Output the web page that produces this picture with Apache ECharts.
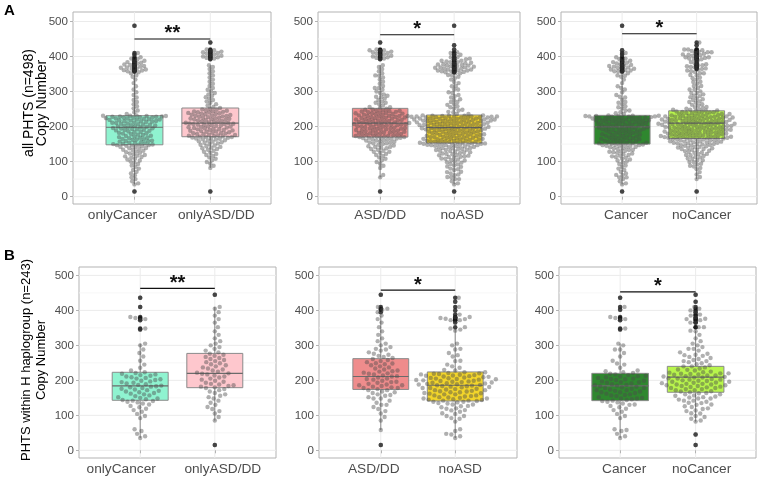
<!DOCTYPE html>
<html><head><meta charset="utf-8">
<script src="https://cdn.jsdelivr.net/npm/echarts@6/dist/echarts.min.js"></script>
<style>html,body{margin:0;padding:0;background:#fff}#c{width:758px;height:477px}</style>
</head><body><div id="c"></div>
<script>
// ---------- data: all PHTS (n=498) ----------
const A_onlyCancer = [15,35,38,44,50,55,61,66,71,76,80,85,89,93,97,100,103,106,108,111,113,115,117,119,121,123,125,127,129,131,133,134,136,138,139,141,142,144,145,146,147,147,148,149,150,151,152,153,154,156,157,158,159,160,162,163,164,165,167,168,169,170,172,173,174,176,177,178,180,181,182,184,185,186,188,189,190,191,192,193,194,195,196,197,198,199,200,201,202,203,204,205,206,207,208,209,210,211,212,213,214,215,215,216,217,218,219,220,220,221,222,223,223,224,225,226,226,227,228,228,229,229,230,230,231,231,232,236,241,246,252,258,264,270,276,283,290,298,306,315,324,334,342,346,352,355,357,358,360,361,363,365,366,368,369,371,373,374,376,377,380,382,384,386,388,392,394,398,405,410,488];
const A_onlyASD = [15,82,88,94,99,104,108,112,116,119,122,125,128,131,134,136,138,140,142,144,146,148,150,152,154,155,157,158,160,161,163,164,165,166,167,168,169,170,170,171,172,173,174,175,176,177,178,179,180,181,182,183,184,185,186,187,188,189,190,191,192,193,194,195,196,197,198,199,200,201,202,203,204,205,206,207,207,208,209,210,211,212,213,214,215,216,217,218,219,220,221,222,223,224,225,226,227,228,229,230,231,232,233,234,235,236,237,238,239,240,241,242,243,244,245,246,248,249,251,253,256,260,264,268,272,276,280,284,288,292,296,300,305,310,316,322,328,334,340,346,352,358,364,370,375,392,394,396,398,400,402,404,406,408,410,412,414,416,418,420,440];
const A_both = [55,62,128,142,152,160,168,175,182,188,194,200,206,212,218,224,230,238,246,255,268,285,310,345,418];
const A_neither = [50,56,63,70,78,86,92,98,104,109,114,118,122,126,130,133,136,139,142,145,147,149,151,152,154,155,157,158,160,161,163,165,166,168,170,171,173,175,176,178,180,181,183,185,186,188,190,191,193,195,196,198,199,201,202,204,205,207,208,210,211,213,214,216,217,219,220,222,223,225,226,228,229,231,232,236,242,248,255,262,270,278,287,296,306,316,327,338,347,352,356,360,363,366,369,372,375,378,381,384,388,392,398,405,412,420,432];
// ---------- data: PHTS within H haplogroup (n=243) ----------
const B_onlyCancer = [35,40,47,55,60,92,98,104,110,115,119,123,127,131,134,137,139,141,142,144,146,148,150,152,155,157,160,162,164,166,168,170,172,174,176,178,180,182,183,185,187,189,191,193,195,197,199,201,203,205,207,209,211,213,215,217,219,221,223,228,236,245,256,268,278,288,300,305,345,348,372,375,378,381,410,436];
const B_onlyASD = [15,85,95,105,112,118,124,130,136,142,148,152,156,160,164,168,172,175,178,180,182,184,186,188,190,193,196,199,202,205,208,211,214,217,219,220,222,225,228,231,234,237,240,243,246,249,252,255,258,261,264,267,270,273,276,280,285,290,295,300,305,312,320,330,340,352,365,375,385,395,405,410,445];
const B_both = [58,130,148,158,166,172,178,186,195,204,212,226,248,288,402];
const B_neither = [45,82,90,98,106,114,120,126,131,135,139,142,145,148,151,154,157,160,163,166,169,172,175,178,181,184,186,188,190,192,194,196,198,200,202,204,206,208,210,212,214,216,218,220,223,230,240,255,272,290,342,352,365,372,376,380,388,400,425];

// quartiles [q1, median, q3]
const A1_quart = [[148,198,231],[171,210,253]];
const A2_quart = [[170,210,252],[153,197,233]];
const A3_quart = [[150,199,232],[166,210,245]];
const B1_quart = [[143,184,223],[179,220,277]];
const B2_quart = [[174,211,262],[141,186,224]];
const B3_quart = [[142,184,220],[166,209,240]];

const cats1 = ['onlyCancer','onlyASD/DD'];
const cats2 = ['ASD/DD','noASD'];
const cats3 = ['Cancer','noCancer'];
const fill1 = ['#8ff3d0','#fec7cd'];
const fill2 = ['#ef8c8c','#f3d52a'];
const fill3 = ['#2f872f','#b8f54c'];
const yTicks = [0,100,200,300,400,500];
const yMinor = [50,150,250,350,450];

const panels = [
  {grid:{left:73,top:12,width:198,height:192}, xr:[0.19,2.80], yr:[-21,527], cats:cats1, fills:fill1, groups:[A_onlyCancer, A_onlyASD], quart:A1_quart, sig:'**', sigY:450, dot:3.9, shift:[-12,6]},
  {grid:{left:318,top:12,width:202,height:192}, xr:[0.16,2.89], yr:[-21,527], cats:cats2, fills:fill2, groups:[A_onlyASD.concat(A_both), A_onlyCancer.concat(A_neither)], quart:A2_quart, sig:'*', sigY:462, dot:3.9, shift:[0,8]},
  {grid:{left:561,top:12,width:196,height:192}, xr:[0.18,2.81], yr:[-21,527], cats:cats3, fills:fill3, groups:[A_onlyCancer.concat(A_both), A_onlyASD.concat(A_neither)], quart:A3_quart, sig:'*', sigY:465, dot:3.9, shift:[4,5]},
  {grid:{left:79,top:267,width:197,height:191}, xr:[0.18,2.82], yr:[-22,524], cats:cats1, fills:fill1, groups:[B_onlyCancer, B_onlyASD], quart:B1_quart, sig:'**', sigY:463, dot:5.2, shift:[-19,8]},
  {grid:{left:319,top:267,width:198,height:191}, xr:[0.17,2.83], yr:[-22,524], cats:cats2, fills:fill2, groups:[B_onlyASD.concat(B_both), B_onlyCancer.concat(B_neither)], quart:B2_quart, sig:'*', sigY:458, dot:5.2, shift:[-7,5]},
  {grid:{left:559,top:267,width:197,height:191}, xr:[0.19,2.80], yr:[-22,524], cats:cats3, fills:fill3, groups:[B_onlyCancer.concat(B_both), B_onlyASD.concat(B_neither)], quart:B3_quart, sig:'*', sigY:453, dot:5.2, shift:[4,6]}
];

const FONT = '"Liberation Sans", Arial, sans-serif';

function swarm(vals, pxY, D){
  const pts = vals.map(v => ({v, y: v * pxY, x: 0})).sort((a,b) => a.y - b.y);
  const placed = [];
  for (const p of pts){
    const near = placed.filter(q => p.y - q.y < D);
    const cands = [0];
    for (const q of near){
      const dy = p.y - q.y; const dx = Math.sqrt(Math.max(0, D*D - dy*dy));
      cands.push(q.x + dx, q.x - dx);
    }
    cands.sort((a,b) => Math.abs(a) - Math.abs(b) || b - a);
    let best = 0;
    for (const c of cands){
      if (near.every(q => (c-q.x)*(c-q.x) + (p.y-q.y)*(p.y-q.y) >= D*D - 1e-6)) { best = c; break; }
    }
    p.x = best; placed.push(p);
  }
  return pts;
}

function shiftedLabel(P){
  const rich = {};
  P.shift.forEach((s, k) => {
    rich['s' + k] = {fontSize:13.7, color:'#4d4d4d', fontFamily:FONT,
      padding:[0, s < 0 ? -2*s : 0, 0, s > 0 ? 2*s : 0]};
  });
  return {customValues:[1,2], margin:4, fontSize:13.7, color:'#4d4d4d', fontFamily:FONT, rich,
    formatter: v => { const k = Math.round(v) - 1; return '{s' + k + '|' + P.cats[k] + '}'; }};
}

const grids = [], xAxes = [], yAxes = [], series = [];
panels.forEach((P, i) => {
  grids.push(Object.assign({show:true, borderColor:'#b3b3b3', borderWidth:1, backgroundColor:'#fff'}, P.grid));
  xAxes.push({type:'value', gridIndex:i, min:P.xr[0], max:P.xr[1],
    axisLine:{show:false}, splitLine:{show:false},
    axisTick:{show:true, customValues:[1,2], length:3, lineStyle:{color:'#b3b3b3'}},
    axisLabel:shiftedLabel(P)});
  yAxes.push({type:'value', gridIndex:i, min:P.yr[0], max:P.yr[1],
    axisLine:{show:false}, splitLine:{show:false},
    axisTick:{show:true, customValues:yTicks, length:3, lineStyle:{color:'#b3b3b3'}},
    axisLabel:{customValues:yTicks, fontSize:11.6, color:'#4d4d4d', margin:5, fontFamily:FONT}});

  // gridlines
  const gl = [];
  yTicks.forEach(v => gl.push([1.5, v, 0]));
  yMinor.forEach(v => gl.push([1.5, v, 1]));
  [1,2].forEach(v => gl.push([v, 250, 2]));
  series.push({type:'custom', xAxisIndex:i, yAxisIndex:i, silent:true, z:0, data:gl,
    renderItem:(params, api) => {
      const cs = params.coordSys, k = api.value(2);
      if (k < 2){
        const y = api.coord([1.5, api.value(1)])[1];
        return {type:'line', shape:{x1:cs.x, y1:y, x2:cs.x+cs.width, y2:y}, style:{stroke: k===0 ? '#ebebeb' : '#f4f4f4', lineWidth: k===0 ? 1 : 0.8}};
      }
      const x = api.coord([api.value(0), 250])[0];
      return {type:'line', shape:{x1:x, y1:cs.y, x2:x, y2:cs.y+cs.height}, style:{stroke:'#ebebeb', lineWidth:1}};
    }});

  const boxData = [], outliers = [], dots = [];
  const pxY = P.grid.height / (P.yr[1] - P.yr[0]);
  const pxX = P.grid.width / (P.xr[1] - P.xr[0]);
  P.groups.forEach((g, gi) => {
    const [q1, md, q3] = P.quart[gi];
    const iqr = q3 - q1, lo = q1 - 1.5*iqr, hi = q3 + 1.5*iqr;
    const inside = g.filter(v => v >= lo && v <= hi);
    boxData.push([gi+1, Math.min(...inside), q1, md, q3, Math.max(...inside), gi]);
    g.filter(v => v < lo || v > hi).forEach(v => outliers.push([gi+1, v]));
    swarm(g, pxY, P.dot).forEach(p => dots.push([gi+1 + p.x/pxX, p.v]));
  });
  series.push({type:'custom', xAxisIndex:i, yAxisIndex:i, silent:true, z:1, data:boxData,
    encode:{x:0, y:[1,2,3,4,5]},
    renderItem:(params, api) => {
      const x = api.value(0), ci = api.value(6);
      const pLo = api.coord([x, api.value(1)]), pQ1 = api.coord([x, api.value(2)]), pMd = api.coord([x, api.value(3)]);
      const pQ3 = api.coord([x, api.value(4)]), pHi = api.coord([x, api.value(5)]);
      const xl = api.coord([x-0.375, 0])[0], xr = api.coord([x+0.375, 0])[0];
      const st = {stroke:'#8a8a8a', lineWidth:1};
      return {type:'group', children:[
        {type:'line', shape:{x1:pLo[0], y1:pLo[1], x2:pQ1[0], y2:pQ1[1]}, style:st},
        {type:'line', shape:{x1:pQ3[0], y1:pQ3[1], x2:pHi[0], y2:pHi[1]}, style:st},
        {type:'rect', shape:{x:xl, y:pQ3[1], width:xr-xl, height:pQ1[1]-pQ3[1]}, style:{fill:P.fills[ci], stroke:'#8a8a8a', lineWidth:1}},
        {type:'line', shape:{x1:xl, y1:pMd[1], x2:xr, y2:pMd[1]}, style:{stroke:'#6b6b6b', lineWidth:1.2}}
      ]};
    }});
  series.push({type:'scatter', xAxisIndex:i, yAxisIndex:i, silent:true, z:2, data:outliers, symbolSize:4.5,
    itemStyle:{color:'#111'}});
  series.push({type:'scatter', xAxisIndex:i, yAxisIndex:i, silent:true, z:3, data:dots, symbolSize:4.4,
    itemStyle:{color:'rgba(75,75,75,0.55)'}});
  series.push({type:'custom', xAxisIndex:i, yAxisIndex:i, silent:true, z:4, data:[[1, 2, P.sigY]],
    renderItem:(params, api) => {
      const a = api.coord([api.value(0), api.value(2)]), b = api.coord([api.value(1), api.value(2)]);
      return {type:'group', children:[
        {type:'line', shape:{x1:a[0], y1:a[1], x2:b[0], y2:b[1]}, style:{stroke:'#111', lineWidth:1.1}},
        {type:'text', x:(a[0]+b[0])/2, y:a[1]+5, style:{text:P.sig, font:'bold 20px ' + FONT, fill:'#111', align:'center', verticalAlign:'bottom', textAlign:'center', textVerticalAlign:'bottom'}}
      ]};
    }});
});

const chart = echarts.init(document.getElementById('c'), null, {renderer:'canvas'});
chart.setOption({
  animation:false,
  backgroundColor:'#fff',
  grid:grids, xAxis:xAxes, yAxis:yAxes, series:series,
  graphic:[
    {type:'text', left:4, top:3, style:{text:'A', font:'bold 15px ' + FONT, fill:'#000'}},
    {type:'text', left:4, top:248, style:{text:'B', font:'bold 15px ' + FONT, fill:'#000'}},
    {type:'text', x:36, y:103, rotation:Math.PI/2, style:{text:'all PHTS (n=498)\nCopy Number', font:'14px ' + FONT, fill:'#000', align:'center', verticalAlign:'middle', textAlign:'center', textVerticalAlign:'middle', lineHeight:13}},
    {type:'text', x:34, y:360, rotation:Math.PI/2, style:{text:'PHTS within H haplogroup (n=243)\nCopy Number', font:'13px ' + FONT, fill:'#000', align:'center', verticalAlign:'middle', textAlign:'center', textVerticalAlign:'middle', lineHeight:15}}
  ]
});
</script>
</body></html>
